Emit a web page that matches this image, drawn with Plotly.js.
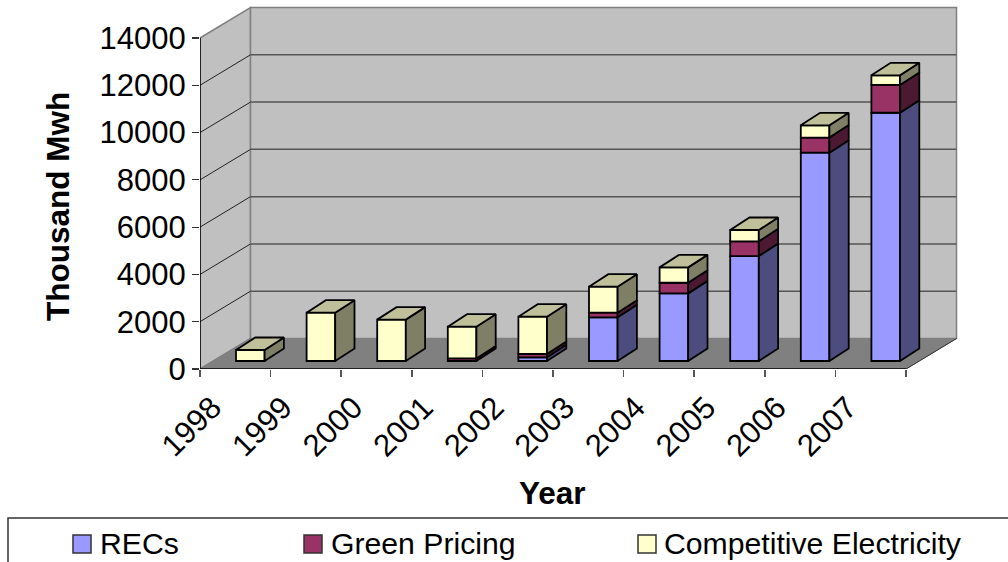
<!DOCTYPE html>
<html>
<head>
<meta charset="utf-8">
<script src="https://cdn.plot.ly/plotly-3.0.1.min.js"></script>
<style>html,body{margin:0;padding:0;background:#fff;overflow:hidden}</style>
</head>
<body>
<div id="chart" style="width:1008px;height:562px"></div>
<script>
const years = [1998,1999,2000,2001,2002,2003,2004,2005,2006,2007];
const recs = [0,0,0,0,155,1848,2860,4440,8810,10500];
const greenPricing = [0,0,0,110,141,195,450,620,640,1175];
const competitive = [465,2045,1750,1340,1579,1100,650,480,520,410];
const seriesNames = ['RECs','Green Pricing','Competitive Electricity'];
const seriesValues = [recs, greenPricing, competitive];
const frontColors = ['#9999FF','#993366','#FFFFCC'];
const sideColors = ['#4C4C7F','#4C1933','#7F7F66'];
const topColor = '#BFBF99';
const yTicks = [0,2000,4000,6000,8000,10000,12000,14000];

const W = 1008, H = 562, L = 200, R = 960, T = 6, B = 369;
const pxPerYear = 70.6, pxPerUnit = 331/14000;
const xMin = years[0]-0.5, xMax = xMin + (R-L)/pxPerYear, yMax = (B-T)/pxPerUnit;
const wallDx = 50.5/pxPerYear, wallDv = 30.5/pxPerUnit;
const barShift = 15/pxPerYear, barW = 28.6/pxPerYear, barBase = 8/pxPerUnit;
const barDx = 19.3/pxPerYear, barDv = 12.5/pxPerUnit;
const xEnd = years[years.length-1]+0.5;
const px = v => (v-L)/(R-L), py = v => (B-v)/(B-T);

const font = 'Liberation Sans, Arial, sans-serif';
const traces = [];
const cum = years.map(()=>0);
const faces = [];
seriesValues.forEach((vals,s)=>{
  const base = [], xs = [], ys = [];
  vals.forEach((v,i)=>{
    if(v<=0) return;
    const b = barBase+cum[i];
    xs.push(years[i]+barShift); ys.push(v); base.push(b);
    const xr = years[i]+barShift+barW/2;
    faces.push({x:[xr,xr+barDx,xr+barDx,xr,xr],
      y:[b,b+barDv,b+v+barDv,b+v,b],c:sideColors[s]});
    cum[i]+=v;
  });
  traces.push({type:'bar',name:seriesNames[s],x:xs,y:ys,base:base,width:barW,
    marker:{color:frontColors[s],line:{color:'#000',width:1.8}},showlegend:false,hoverinfo:'skip'});
});
years.forEach((yr,i)=>{
  const t = barBase+cum[i], xl = yr+barShift-barW/2, xr = yr+barShift+barW/2;
  faces.push({x:[xl,xr,xr+barDx,xl+barDx,xl],y:[t,t,t+barDv,t+barDv,t],c:topColor});
});
faces.forEach(f=>traces.push({type:'scatter',mode:'lines',x:f.x,y:f.y,fill:'toself',fillcolor:f.c,
  line:{color:'#000',width:1.8},showlegend:false,hoverinfo:'skip'}));
traces.push({type:'scatter',mode:'lines',x:[xMin,xMin],y:[0,14000],line:{color:'#000',width:1.5},cliponaxis:false,showlegend:false,hoverinfo:'skip'});
traces.push({type:'scatter',mode:'lines',x:[xMin,xEnd],y:[0,0],line:{color:'#000',width:1.5},cliponaxis:false,showlegend:false,hoverinfo:'skip'});

const xb = xMin+wallDx, xbr = xEnd+wallDx, topB = 14000+wallDv;
const shapes = [
  {type:'path',layer:'below',path:`M${xMin},0 L${xb},${wallDv} L${xb},${topB} L${xMin},14000 Z`,fillcolor:'#C0C0C0',line:{color:'#808080',width:1.5}},
  {type:'path',layer:'below',path:`M${xb},${wallDv} L${xbr},${wallDv} L${xbr},${topB} L${xb},${topB} Z`,fillcolor:'#C0C0C0',line:{color:'#808080',width:1.5}},
  {type:'path',layer:'below',path:`M${xMin},0 L${xEnd},0 L${xbr},${wallDv} L${xb},${wallDv} Z`,fillcolor:'#808080',line:{color:'#808080',width:1}},
  {type:'line',layer:'below',x0:xEnd,x1:xbr,y0:0,y1:wallDv,line:{color:'#333',width:1}}
];
yTicks.slice(1,-1).forEach(v=>{
  shapes.push({type:'line',layer:'below',x0:xMin,x1:xb,y0:v,y1:v+wallDv,line:{color:'#222',width:1}});
  shapes.push({type:'line',layer:'below',x0:xb,x1:xbr,y0:v+wallDv,y1:v+wallDv,line:{color:'#555',width:1.5}});
});
shapes.push({type:'rect',xref:'paper',yref:'paper',x0:px(8),x1:px(1020),y0:py(518),y1:py(580),line:{color:'#333',width:1.5},fillcolor:'rgba(0,0,0,0)'});
const swatchX = [73,304,638], textX = [98,329,662];
const annotations = [];
seriesNames.forEach((n,s)=>{
  shapes.push({type:'rect',xref:'paper',yref:'paper',x0:px(swatchX[s]),x1:px(swatchX[s]+18),y0:py(553),y1:py(535),
    fillcolor:frontColors[s],line:{color:'#333',width:1.5}});
  annotations.push({xref:'paper',yref:'paper',x:px(textX[s]),y:py(543),xanchor:'left',yanchor:'middle',showarrow:false,
    text:n,font:{family:font,size:30.2,color:'#000'}});
});
annotations.push({xref:'paper',yref:'paper',x:px(552),y:py(493),xanchor:'center',yanchor:'middle',showarrow:false,
  text:'<b>Year</b>',font:{family:font,size:31.5,color:'#000'}});
annotations.push({xref:'paper',yref:'paper',x:px(58),y:py(207),xanchor:'center',yanchor:'middle',showarrow:false,textangle:-90,
  text:'<b>Thousand Mwh</b>',font:{family:font,size:31.5,color:'#000'}});

const layout = {
  width:W,height:H,autosize:false,showlegend:false,
  margin:{l:L,r:W-R,t:T,b:H-B,pad:0},
  paper_bgcolor:'#fff',plot_bgcolor:'#fff',
  barmode:'overlay',
  xaxis:{type:'linear',range:[xMin,xMax],tickmode:'array',tickvals:years,ticktext:years.map(String),
    tickangle:-45,ticks:'',showgrid:false,zeroline:false,showline:false,
    ticklabelshift:-23,ticklabelstandoff:13,
    tickfont:{family:font,size:31,color:'#000'},
    minor:{tickmode:'array',tickvals:years.map(y=>y-0.5).concat([xEnd]),ticks:'outside',ticklen:7,tickcolor:'#555',tickwidth:1.5,showgrid:false}},
  yaxis:{type:'linear',range:[0,yMax],tickmode:'array',tickvals:yTicks,ticktext:yTicks.map(String),
    ticks:'outside',ticklen:7,tickcolor:'#333',tickwidth:1.2,showgrid:false,zeroline:false,showline:false,
    tickfont:{family:font,size:31,color:'#000'}},
  shapes:shapes,annotations:annotations
};
Plotly.newPlot('chart',traces,layout,{staticPlot:true,displayModeBar:false});
</script>
</body>
</html>
